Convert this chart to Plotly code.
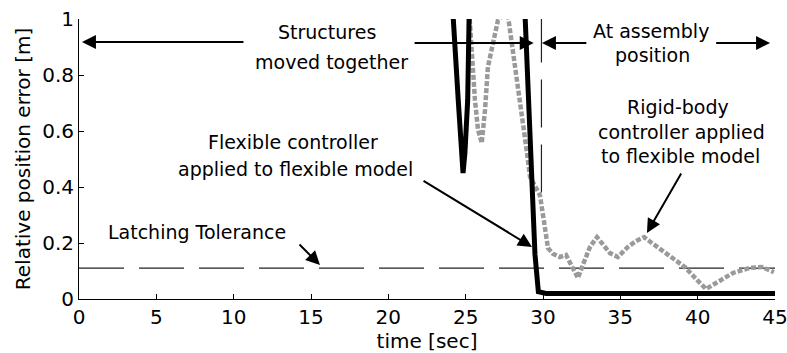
import plotly.graph_objects as go

# ---- data (time in s, relative position error in m) ----
flex_t = [24.10, 24.20, 24.52, 24.75, 24.83, 24.95, 25.13, 25.22, 25.30,
          28.70, 28.84, 29.27, 29.48, 29.70, 30.20, 35.00, 40.00, 45.00]
flex_err = [1.20, 1.00, 0.71, 0.50, 0.45, 0.52, 0.71, 1.00, 1.20,
            1.20, 1.01, 0.50, 0.16, 0.026, 0.02, 0.02, 0.02, 0.02]

rigid_t = [25.20, 25.39, 25.60, 25.80, 26.04, 26.25, 26.44, 27.09, 27.35, 27.74,
           28.06, 28.38, 28.62, 28.94, 29.16, 29.80, 30.10, 30.32, 30.65, 31.10,
           31.49, 31.74, 32.07, 32.26, 32.65, 33.04, 33.49, 33.94, 34.33, 34.84,
           35.49, 36.01, 36.53, 37.56, 38.53, 39.18, 39.96, 40.54, 41.31, 42.28,
           43.38, 44.16, 44.93]
rigid_err = [1.05, 0.864, 0.711, 0.604, 0.557, 0.675, 0.829, 0.996, 1.01, 1.01,
             0.89, 0.77, 0.675, 0.532, 0.436, 0.371, 0.264, 0.182, 0.161, 0.150,
             0.157, 0.132, 0.096, 0.075, 0.132, 0.186, 0.221, 0.189, 0.164, 0.150,
             0.186, 0.207, 0.221, 0.179, 0.139, 0.114, 0.068, 0.036, 0.061, 0.093,
             0.111, 0.114, 0.096]

latch_t = [0, 45]
latch_tol = [0.11, 0.11]

assembly_t = [29.9, 29.9]
assembly_y = [0.38, 1.0]

x_ticks = [0, 5, 10, 15, 20, 25, 30, 35, 40, 45]
x_tick_text = ["0", "5", "10", "15", "20", "25", "30", "35", "40", "45"]
y_ticks = [0, 0.2, 0.4, 0.6, 0.8, 1.0]
y_tick_text = ["0", "0.2", "0.4", "0.6", "0.8", "1"]

FONT = "DejaVu Sans"

fig = go.Figure()

fig.add_trace(go.Scatter(x=latch_t, y=latch_tol, mode="lines",
                         line=dict(color="#222222", width=1.2, dash="45px,15px"),
                         showlegend=False, hoverinfo="skip"))
fig.add_trace(go.Scatter(x=assembly_t, y=assembly_y, mode="lines",
                         line=dict(color="#222222", width=1.2, dash="48px,17px"),
                         showlegend=False, hoverinfo="skip"))
fig.add_trace(go.Scatter(x=rigid_t, y=rigid_err, mode="lines",
                         name="Rigid-body controller applied to flexible model",
                         line=dict(color="#9a9a9a", width=4.5, dash="5px,2px"),
                         showlegend=False))
fig.add_trace(go.Scatter(x=flex_t, y=flex_err, mode="lines",
                         name="Flexible controller applied to flexible model",
                         line=dict(color="black", width=5),
                         showlegend=False))

# text labels (one per line)
texts = [
    ("Structures", 16.03, 0.953),
    ("moved together", 16.30, 0.846),
    ("At assembly", 36.98, 0.958),
    ("position", 37.05, 0.870),
    ("Flexible controller", 13.84, 0.559),
    ("applied to flexible model", 13.97, 0.466),
    ("Latching Tolerance", 7.63, 0.238),
    ("Rigid-body", 38.73, 0.687),
    ("controller applied", 38.93, 0.598),
    ("to flexible model", 38.90, 0.509),
]
for txt, tx, ty in texts:
    fig.add_annotation(x=tx, y=ty, text=txt, showarrow=False,
                       font=dict(family=FONT, size=19, color="black"),
                       xanchor="center", yanchor="middle")

# arrows: (head_t, head_y, tail_t, tail_y)
arrows = [
    (0.19, 0.918, 10.73, 0.918),
    (29.40, 0.914, 21.60, 0.914),
    (29.93, 0.914, 32.90, 0.914),
    (44.68, 0.914, 41.10, 0.914),
    (29.29, 0.186, 22.18, 0.425),
    (15.58, 0.121, 14.16, 0.200),
    (36.72, 0.236, 38.99, 0.454),
]
for hx, hy, tx, ty in arrows:
    fig.add_annotation(x=hx, y=hy, ax=tx, ay=ty, axref="x", ayref="y",
                       text="", showarrow=True, arrowhead=2, arrowsize=1.4,
                       arrowwidth=2, arrowcolor="black")

fig.update_layout(
    width=787, height=353,
    margin=dict(l=79, r=12, t=19, b=54, autoexpand=False),
    paper_bgcolor="white", plot_bgcolor="white",
    font=dict(family=FONT, size=19, color="black"),
    showlegend=False,
)
fig.update_xaxes(range=[0, 45], tickvals=x_ticks, ticktext=x_tick_text,
                 ticks="inside", ticklen=5, tickcolor="black",
                 showline=True, linecolor="black", linewidth=1,
                 showgrid=False, zeroline=False, ticklabeloverflow="allow",
                 automargin=False,
                 title=dict(text="time [sec]", font=dict(size=20), standoff=4),
                 tickfont=dict(size=20))
fig.update_yaxes(range=[0, 1], tickvals=y_ticks, ticktext=y_tick_text,
                 ticks="inside", ticklen=5, tickcolor="black",
                 showline=True, linecolor="black", linewidth=1,
                 showgrid=False, zeroline=False, automargin=False,
                 title=dict(text="Relative position error [m]", font=dict(size=20), standoff=6),
                 tickfont=dict(size=20))

fig.write_html("out.html")
